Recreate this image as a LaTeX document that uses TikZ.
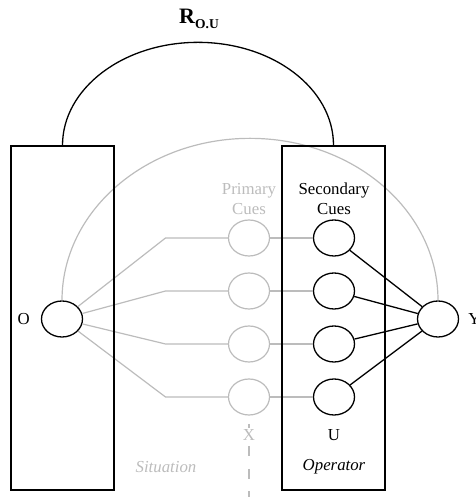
\documentclass[tikz,border=0pt]{standalone}
\usepackage{fontspec}
\setmainfont{Liberation Serif}
\usetikzlibrary{shapes,positioning,calc}
\definecolor{lightline}{RGB}{188,188,188}

\begin{document}
\begin{tikzpicture}[x=1pt, y=1pt,
    cue/.style={draw, ellipse, line width=1.3pt, minimum width=41pt, minimum height=36pt, inner sep=0pt},
    faded/.style={draw=lightline, ellipse, line width=1.2pt, minimum width=41pt, minimum height=36pt, inner sep=0pt},
    frame/.style={draw, rectangle, line width=1.3pt, minimum width=103pt, minimum height=344pt, inner sep=0pt},
    lbl/.style={font=\fontsize{16.8}{20.5}\selectfont, align=center, inner sep=1pt},
    grayline/.style={draw=lightline, line width=1.2pt},
    blackline/.style={draw, line width=1.3pt}
]
    \useasboundingbox (0,0) rectangle (475,497);

    \node [cue] (O) at (62,178) {};
    \node [cue] (Y) at (438,178) {};

    \node [faded] (p1) at (249,259) {};
    \node [faded] (p2) at (249,206) {};
    \node [faded] (p3) at (249,153) {};
    \node [faded] (p4) at (249,100) {};

    \node [cue] (s1) at (334,259) {};
    \node [cue] (s2) at (334,206) {};
    \node [cue] (s3) at (334,153) {};
    \node [cue] (s4) at (334,100) {};

    \coordinate (bend) at (165.5,0);
    \coordinate (xtop) at (249,73);
    \coordinate (xfoot) at (249,0);

    % situation side (gray)
    \draw [grayline] (O.north) arc [start angle=180, end angle=0, x radius=188, y radius=162];
    \draw [grayline] (O) -- (bend |- p1) -- (p1);
    \draw [grayline] (O) -- (bend |- p2) -- (p2);
    \draw [grayline] (O) -- (bend |- p3) -- (p3);
    \draw [grayline] (O) -- (bend |- p4) -- (p4);
    \draw [grayline] (p1) -- (s1);
    \draw [grayline] (p2) -- (s2);
    \draw [grayline] (p3) -- (s3);
    \draw [grayline] (p4) -- (s4);
    \draw [grayline, dash pattern=on 10pt off 12.5pt] (xtop) -- (xfoot);

    % operator side
    \draw [blackline] (s1) -- (Y);
    \draw [blackline] (s2) -- (Y);
    \draw [blackline] (s3) -- (Y);
    \draw [blackline] (s4) -- (Y);

    \node [frame] (sit) at (62.5,179) {};
    \node [frame] (op) at (333.5,179) {};
    \draw [blackline] (sit.north) arc [start angle=180, end angle=0, x radius=135.5, y radius=103];

    \node (rou) at (199,478) {\fontsize{22}{24}\selectfont\textbf{R}\raisebox{-4.5pt}{\fontsize{13.5}{14}\selectfont\textbf{O.U}}};

    \node [lbl, text=lightline] (prim) at (249,298) {Primary\\Cues};
    \node [lbl] (sec) at (334,298) {Secondary\\Cues};
    \node [lbl, left=10pt of O] (olab) {O};
    \node [lbl, right=8pt of Y] (ylab) {Y};
    \node [lbl, text=lightline, fill=white] (xlab) at (249,62) {X};
    \node [lbl] (ulab) at (334,62) {U};
    \node [lbl, text=lightline] (sitlab) at (166,30) {\itshape Situation};
    \node [lbl] (oplab) at (334,30) {\itshape Operator};
\end{tikzpicture}
\end{document}
